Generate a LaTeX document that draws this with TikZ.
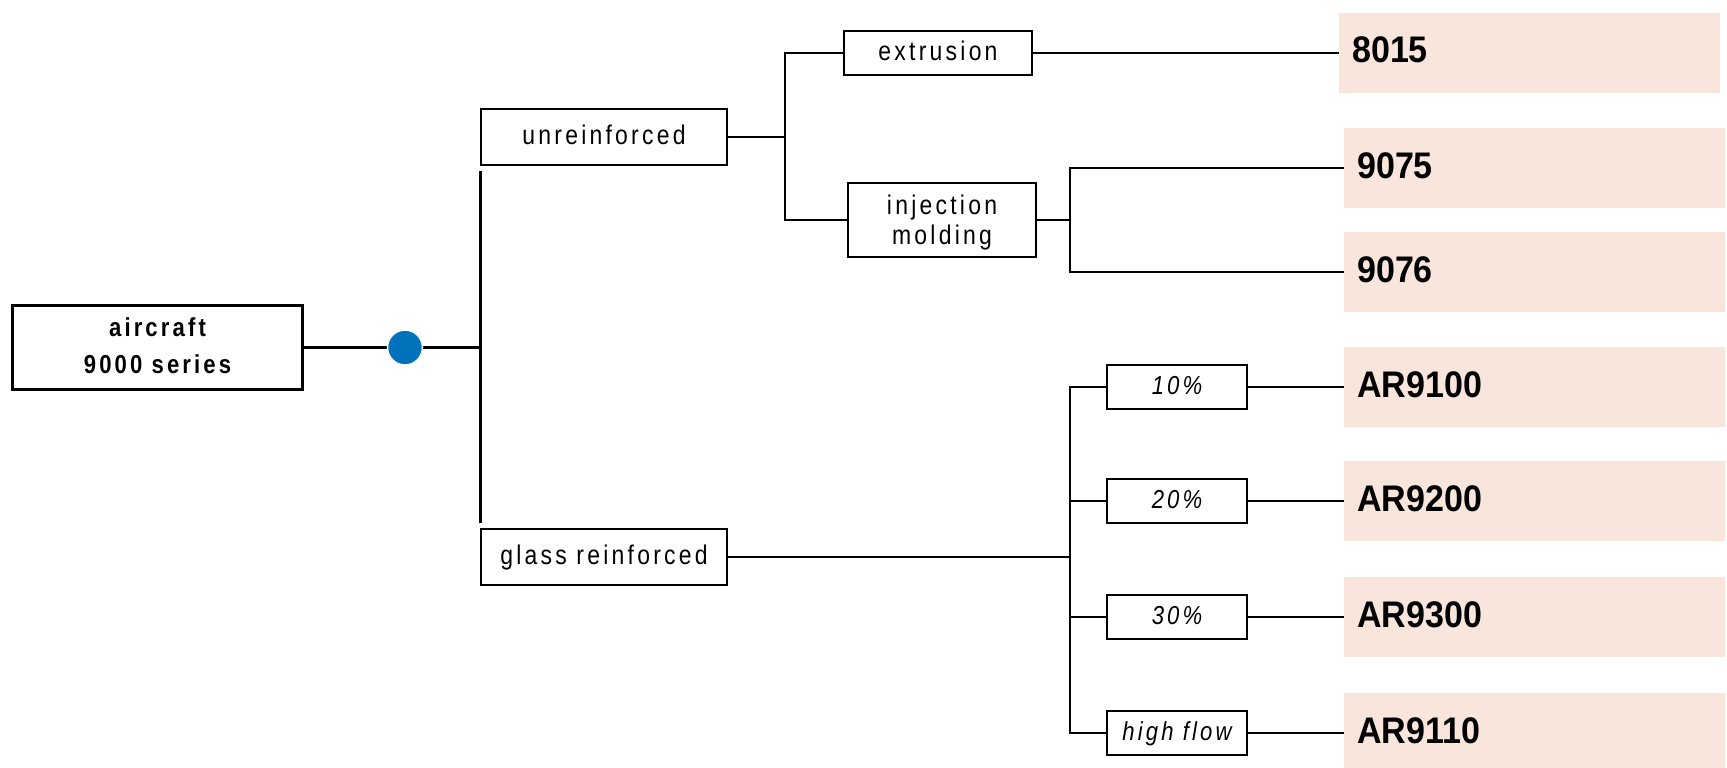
\documentclass[tikz,border=0pt]{standalone}
\usepackage{fontspec}
\newfontfamily\lblfont[FakeStretch=0.85,LetterSpace=12]{Liberation Sans}
\newfontfamily\prodfont[FakeStretch=0.92]{Liberation Sans}
\definecolor{peach}{HTML}{F8E6DD}
\definecolor{dotblue}{HTML}{0072BB}
\tikzset{
  lbl/.style={draw=black, line width=2pt, inner sep=0pt, fill=white,
    font=\lblfont\fontsize{27}{30}\selectfont, text height=20pt, text depth=5pt, align=center},
  pct/.style={lbl, minimum width=140, minimum height=44, font=\lblfont\itshape\fontsize{26}{30}\selectfont},
  headbox/.style={draw=black, line width=3pt, inner sep=0pt, align=center,
    font=\lblfont\bfseries\fontsize{26}{37}\selectfont, text height=56pt, text depth=4pt},
  prod/.style={fill=peach, draw=none, anchor=west, minimum height=80, text width=355, inner xsep=13,
    inner ysep=0pt, align=left, font=\prodfont\bfseries\fontsize{37}{40}\selectfont,
    text height=27pt, text depth=7pt},
  dotst/.style={circle, fill=dotblue, draw=white, line width=1.5pt, minimum size=35, inner sep=0pt},
  heavy/.style={line width=3pt},
  thinline/.style={line width=2pt}
}
\begin{document}
\begin{tikzpicture}[x=1pt,y=-1pt]
\clip (0,0) rectangle (1727,768);
% nodes
\node[headbox, minimum width=290, minimum height=84] (air) at (157.5,347.5) {aircraft\\9000 series};
\coordinate (junc) at (480.5,347.5);
\coordinate (vtop) at (480.5,171);
\coordinate (vbot) at (480.5,523);
\node[lbl, minimum width=246, minimum height=56] (unrein) at (604,137) {unreinforced};
\node[lbl, minimum width=246, minimum height=56] (glass) at (604,557) {glass reinforced};
\node[lbl, minimum width=188, minimum height=44] (extr) at (938,53) {extrusion};
\node[lbl, minimum width=188, minimum height=74, text height=53pt] (inj) at (942,220) {injection\\molding};
\coordinate (j1) at (785,137);
\coordinate (j2) at (1070,220);
\coordinate (j3) at (1070,557);
\node[pct] (pc10) at (1177,387) {10\%};
\node[pct] (pc20) at (1177,501) {20\%};
\node[pct] (pc30) at (1177,617) {30\%};
\node[pct] (pchf) at (1177,733) {high flow};
\node[prod] (p8015) at (1339,53) {8015};
\node[prod] (p9075) at (1344,168) {9075};
\node[prod] (p9076) at (1344,272) {9076};
\node[prod] (ar9100) at (1344,387) {AR9100};
\node[prod] (ar9200) at (1344,501) {AR9200};
\node[prod] (ar9300) at (1344,617) {AR9300};
\node[prod] (ar9110) at (1344,733) {AR9110};
% connectors
\draw[heavy] (air.east) -- (junc);
\draw[heavy] (vtop) -- (vbot);
\node[dotst] (dot) at (405,347.5) {};
\draw[thinline] (unrein.east) -- (j1);
\draw[thinline] (extr.west) -| (j1) |- (inj.west);
\draw[thinline] (extr.east) -- (p8015.west);
\draw[thinline] (inj.east) -- (j2);
\draw[thinline] (p9075.west) -| (j2) |- (p9076.west);
\draw[thinline] (glass.east) -- (j3);
\draw[thinline] (pc10.west) -| (j3) |- (pchf.west);
\draw[thinline] (pc20.west) -- (j3 |- pc20.west);
\draw[thinline] (pc30.west) -- (j3 |- pc30.west);
\draw[thinline] (pc10.east) -- (ar9100.west);
\draw[thinline] (pc20.east) -- (ar9200.west);
\draw[thinline] (pc30.east) -- (ar9300.west);
\draw[thinline] (pchf.east) -- (ar9110.west);
\end{tikzpicture}
\end{document}
